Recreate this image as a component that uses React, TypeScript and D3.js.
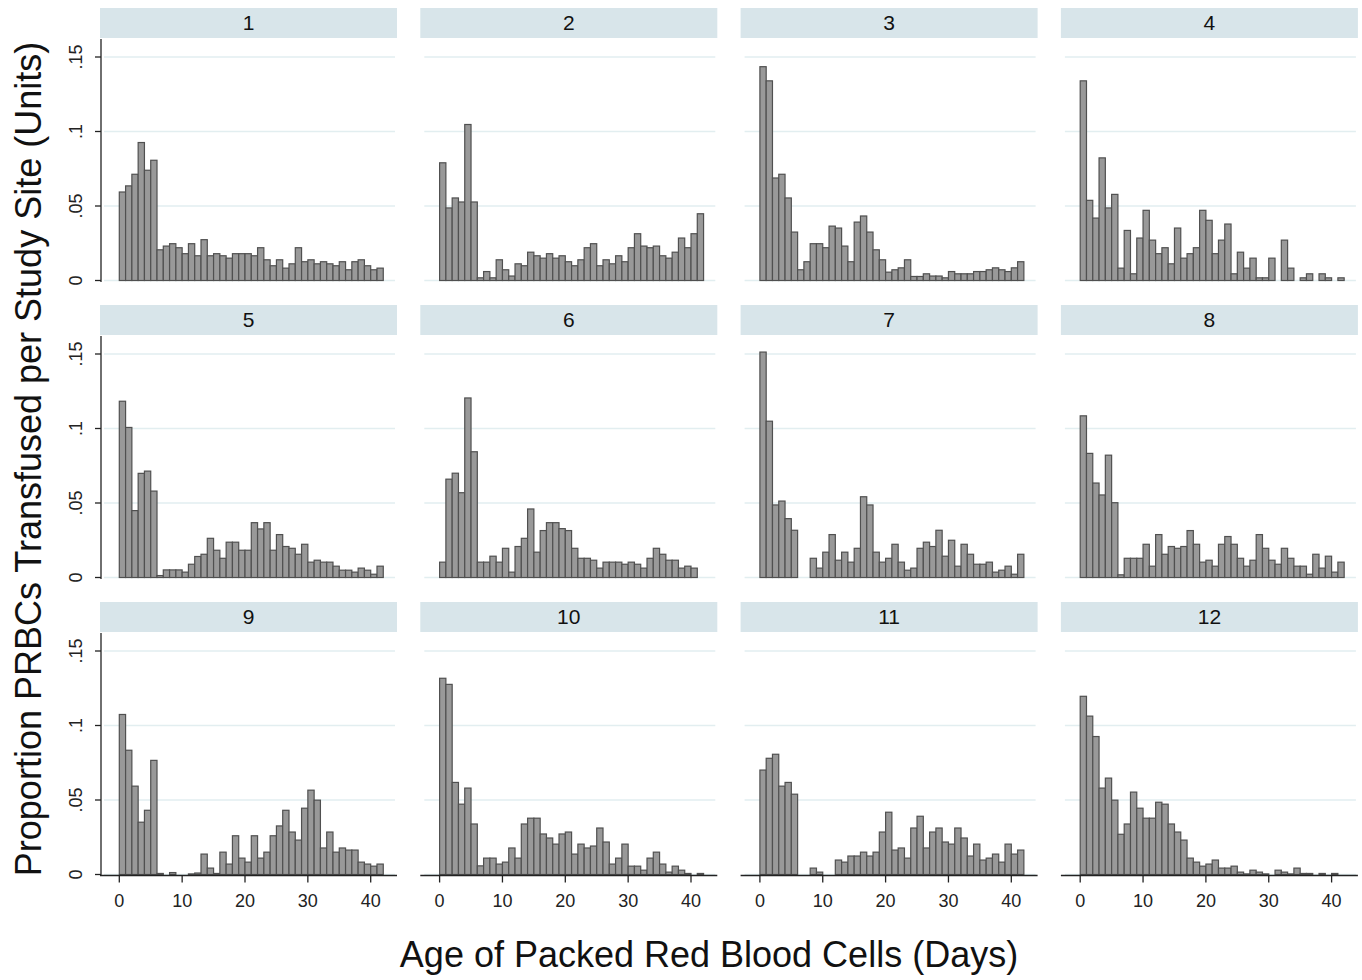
import React from "react";
import * as d3 from "d3";

const site1 = [0.0594,0.0635,0.0713,0.0926,0.074,0.0807,0.0206,0.0231,0.0247,0.022,0.018,0.0247,0.0166,0.0274,0.0166,0.018,0.0166,0.015,0.018,0.018,0.018,0.0166,0.022,0.0139,0.0099,0.0139,0.0083,0.0112,0.022,0.0126,0.0139,0.0112,0.0126,0.0112,0.0099,0.0126,0.0072,0.0126,0.0139,0.0099,0.0072,0.0083];
const site2 = [0.079,0.0487,0.0554,0.0527,0.1047,0.0527,0.0018,0.006,0.0018,0.0139,0.0072,0.003,0.0112,0.0099,0.019,0.0166,0.015,0.018,0.015,0.0166,0.0126,0.0099,0.0139,0.022,0.0247,0.0099,0.0139,0.0112,0.0166,0.0126,0.022,0.0314,0.0231,0.022,0.0231,0.0166,0.015,0.019,0.0285,0.022,0.0314,0.0448];
const site3 = [0.1435,0.134,0.0688,0.0713,0.0554,0.0325,0.0072,0.0126,0.0247,0.0247,0.022,0.0365,0.0352,0.0231,0.0126,0.0392,0.0433,0.0325,0.0206,0.0139,0.0056,0.0072,0.0085,0.0139,0.0027,0.0027,0.0045,0.003,0.003,0.0018,0.006,0.0045,0.0045,0.0045,0.006,0.006,0.0072,0.0085,0.0072,0.006,0.0085,0.0126];
const site4 = [0.134,0.0538,0.0419,0.0823,0.0487,0.0578,0.0083,0.0336,0.0045,0.0285,0.0471,0.0271,0.018,0.022,0.0112,0.0352,0.015,0.018,0.022,0.0471,0.0404,0.018,0.0271,0.0379,0.0045,0.019,0.0083,0.015,0.0018,0.0018,0.015,0,0.0271,0.0083,0,0.0018,0.0045,0,0.0045,0.0018,0,0.0018];
const site5 = [0.1183,0.1007,0.0449,0.0699,0.0714,0.058,0.0013,0.0051,0.0051,0.0051,0.0036,0.0089,0.0141,0.0156,0.0263,0.0183,0.0129,0.0237,0.0237,0.0183,0.0183,0.0368,0.0326,0.0368,0.0183,0.0288,0.0208,0.0196,0.0156,0.0223,0.0103,0.0116,0.0103,0.0103,0.0076,0.0049,0.0049,0.0036,0.0063,0.0049,0.0022,0.0076];
const site6 = [0.0103,0.066,0.07,0.0569,0.1205,0.0844,0.0103,0.0103,0.0143,0.0103,0.0196,0.0036,0.0208,0.0263,0.046,0.017,0.0315,0.0368,0.0368,0.0328,0.0315,0.0196,0.0129,0.0129,0.0116,0.0063,0.0103,0.0103,0.0103,0.0089,0.0103,0.0089,0.0063,0.0129,0.0196,0.0156,0.0116,0.0116,0.0063,0.0076,0.0063];
const site7 = [0.1513,0.1049,0.0487,0.0513,0.0395,0.0317,0,0,0.0129,0.0063,0.017,0.0288,0.0116,0.017,0.0103,0.0196,0.0542,0.0487,0.017,0.0103,0.0129,0.0223,0.0103,0.0049,0.0063,0.0196,0.0237,0.0208,0.0317,0.0143,0.025,0.0076,0.0223,0.0156,0.0089,0.0089,0.0103,0.0036,0.0049,0.0076,0.0022,0.0156];
const site8 = [0.1085,0.0833,0.0634,0.0554,0.0821,0.0502,0.0018,0.0129,0.0129,0.0129,0.0223,0.0076,0.0288,0.0156,0.0208,0.0196,0.0208,0.0315,0.0223,0.0103,0.0116,0.0076,0.0223,0.0275,0.0223,0.0129,0.0076,0.0116,0.0288,0.0196,0.0116,0.0089,0.0196,0.0129,0.0076,0.0076,0.0022,0.0156,0.0063,0.0143,0.0036,0.0103];
const site9 = [0.1074,0.0834,0.0593,0.0351,0.0431,0.0766,0.0007,0,0.0013,0,0,0.0004,0.001,0.0137,0.0043,0.0007,0.015,0.007,0.026,0.011,0.0083,0.026,0.011,0.015,0.026,0.0326,0.0431,0.0285,0.0231,0.0445,0.0566,0.0499,0.0178,0.0285,0.015,0.0178,0.0164,0.0164,0.0083,0.007,0.0056,0.007];
const site10 = [0.1317,0.1276,0.0618,0.0472,0.058,0.0339,0.0058,0.011,0.011,0.007,0.0083,0.0178,0.011,0.0339,0.0378,0.0378,0.0272,0.0245,0.0204,0.0272,0.0285,0.0137,0.0204,0.0178,0.0191,0.0312,0.0218,0.007,0.011,0.0204,0.0056,0.0056,0.0029,0.011,0.015,0.007,0.0016,0.0056,0.0029,0.0007,0,0.0007];
const site11 = [0.0701,0.078,0.0807,0.0593,0.0618,0.0539,0,0,0.0043,0.0016,0,0,0.0097,0.0083,0.0124,0.0124,0.015,0.0124,0.015,0.0285,0.0418,0.0164,0.0178,0.011,0.0312,0.0391,0.0178,0.0285,0.0312,0.0218,0.0204,0.0312,0.0245,0.0124,0.0204,0.0097,0.011,0.0137,0.0083,0.0204,0.0137,0.0164];
const site12 = [0.1196,0.1063,0.0926,0.058,0.0647,0.0499,0.027,0.0339,0.0553,0.0445,0.0378,0.0378,0.0485,0.0472,0.0339,0.0285,0.0231,0.011,0.0083,0.0056,0.007,0.0097,0.0043,0.0043,0.0056,0.0016,0.0004,0.0029,0.0016,0.0004,0,0.0029,0.0016,0.0004,0.0043,0.0007,0.0007,0,0.0007,0,0.0007,0];

const sites = ["1","2","3","4","5","6","7","8","9","10","11","12"];
const siteValues = [site1,site2,site3,site4,site5,site6,site7,site8,site9,site10,site11,site12];
const yTicks = [0, 0.05, 0.1, 0.15];
const yTickLabels = ["0", ".05", ".1", ".15"];
const xTicks = [0, 10, 20, 30, 40];
const yTitle = "Proportion PRBCs Transfused per Study Site (Units)";
const xTitle = "Age of Packed Red Blood Cells (Days)";

const W = 1362, H = 980;
const FONT = "'Liberation Sans', Arial, Helvetica, sans-serif";
const colLeft0 = 100, colPitch = 320.3, panelW = 297;
const stripTop0 = 8, rowPitch = 297, stripH = 30;
const base0 = 280.5;

function Panel({ idx }: { idx: number }) {
  const col = idx % 4, row = Math.floor(idx / 4);
  const left = colLeft0 + col * colPitch;
  const stripTop = stripTop0 + row * rowPitch;
  const base = base0 + row * rowPitch;
  const x = d3.scaleLinear().domain([0, 40]).range([left + 19.3, left + 270.7]);
  const y = d3.scaleLinear().domain([0, 0.15]).range([base, base - 223.5]);
  const vals = siteValues[idx];
  return (
    <g>
      <rect x={left} y={stripTop} width={panelW} height={stripH} fill="#d8e5ea" />
      <text x={left + panelW / 2} y={stripTop + 22} textAnchor="middle" fontSize={21} fontFamily={FONT} fill="#111">{sites[idx]}</text>
      {yTicks.map((t) => (
        <line key={t} x1={left + 4} x2={left + panelW - 2} y1={y(t)} y2={y(t)} stroke="#e2eef0" strokeWidth={1.4} />
      ))}
      {vals.map((v, d) => v > 0 ? (
        <rect key={d} x={x(d)} y={y(v)} width={x(d + 1) - x(d)} height={base - y(v)} fill="#999999" stroke="#505050" strokeWidth={1.2} />
      ) : null)}
      {col === 0 && (
        <g>
          <line x1={left + 1} x2={left + 1} y1={stripTop + stripH + 1} y2={base + 1.5} stroke="#222" strokeWidth={1.3} />
          {yTicks.map((t, i) => (
            <g key={t}>
              <line x1={left - 5} x2={left + 1} y1={y(t)} y2={y(t)} stroke="#222" strokeWidth={1.3} />
              <text transform={`translate(${left - 18},${y(t)}) rotate(-90)`} textAnchor="middle" fontSize={18} fontFamily={FONT} fill="#222">{yTickLabels[i]}</text>
            </g>
          ))}
        </g>
      )}
      {row === 2 && (
        <g>
          <line x1={left} x2={left + panelW} y1={base + 1} y2={base + 1} stroke="#222" strokeWidth={1.3} />
          {xTicks.map((t) => (
            <g key={t}>
              <line x1={x(t)} x2={x(t)} y1={base + 1} y2={base + 8} stroke="#222" strokeWidth={1.3} />
              <text x={x(t)} y={base + 32} textAnchor="middle" fontSize={18} fontFamily={FONT} fill="#222">{t}</text>
            </g>
          ))}
        </g>
      )}
    </g>
  );
}

export default function App() {
  return (
    <svg width={W} height={H} style={{ position: "absolute", left: 0, top: 0, background: "#fff" }}>
      <rect x={0} y={0} width={W} height={H} fill="#fff" />
      {sites.map((s, i) => <Panel key={s} idx={i} />)}
      <text transform={`translate(41,459) rotate(-90)`} textAnchor="middle" fontSize={36} fontFamily={FONT} fill="#111">{yTitle}</text>
      <text x={709} y={967} textAnchor="middle" fontSize={36} fontFamily={FONT} fill="#111">{xTitle}</text>
    </svg>
  );
}
